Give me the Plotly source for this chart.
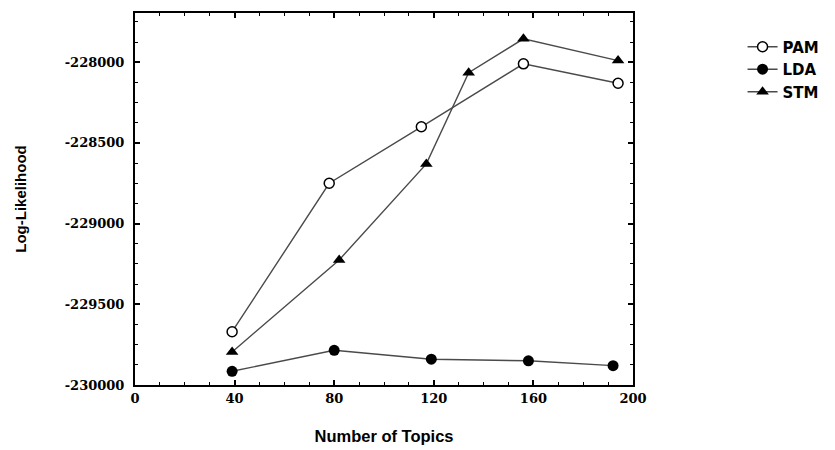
import plotly.graph_objects as go

# Data
pam_x = [39, 78, 115, 156, 194]
pam_y = [-229670, -228750, -228400, -228010, -228130]
lda_x = [39, 80, 119, 158, 192]
lda_y = [-229915, -229785, -229840, -229850, -229880]
stm_x = [39, 82, 117, 134, 156, 194]
stm_y = [-229795, -229225, -228630, -228065, -227855, -227990]

x_ticks = [0, 40, 80, 120, 160, 200]
y_ticks = [-230000, -229500, -229000, -228500, -228000]

line_col = "#4a4a4a"
fig = go.Figure()
fig.add_trace(go.Scatter(x=pam_x, y=pam_y, name="PAM", mode="lines+markers",
                         line=dict(color=line_col, width=1.4),
                         marker=dict(symbol="circle", size=10, color="white",
                                     line=dict(color="black", width=1.5))))
fig.add_trace(go.Scatter(x=lda_x, y=lda_y, name="LDA", mode="lines+markers",
                         line=dict(color=line_col, width=1.4),
                         marker=dict(symbol="circle", size=11, color="black")))
fig.add_trace(go.Scatter(x=stm_x, y=stm_y, name="STM", mode="lines+markers",
                         line=dict(color=line_col, width=1.4),
                         marker=dict(symbol="triangle-up", size=11, color="black")))

tick_font = dict(family="DejaVu Serif", size=13, color="black", weight="bold")

fig.update_layout(
    width=835, height=450,
    margin=dict(l=127, r=210, t=3, b=73),
    paper_bgcolor="white", plot_bgcolor="white",
    showlegend=True,
    legend=dict(x=1.22, y=0.953, xanchor="left", yanchor="top",
                font=dict(family="DejaVu Sans", size=15, color="black", weight="bold"),
                bgcolor="rgba(0,0,0,0)", tracegroupgap=0),
    xaxis=dict(range=[0, 200], tickvals=x_ticks, ticktext=[str(v) for v in x_ticks],
               showgrid=False, zeroline=False, showline=True, linecolor="black", linewidth=2,
               mirror="allticks", ticks="inside", ticklen=5, tickwidth=1.5, tickcolor="black",
               minor=dict(dtick=10, ticks="inside", ticklen=3, tickcolor="black", tickwidth=1),
               tickfont=tick_font, ticklabelstandoff=0,
               title=dict(text="Number of Topics",
                          font=dict(family="Liberation Sans", size=16.5, color="black", weight="bold"),
                          standoff=26)),
    yaxis=dict(range=[-230000, -227695], tickvals=y_ticks, ticktext=[str(v) for v in y_ticks],
               showgrid=False, zeroline=False, showline=True, linecolor="black", linewidth=2,
               mirror="allticks", ticks="inside", ticklen=5, tickwidth=1.5, tickcolor="black",
               minor=dict(dtick=125, ticks="inside", ticklen=3, tickcolor="black", tickwidth=1),
               tickfont=tick_font, ticklabelstandoff=6,
               title=dict(text="Log-Likelihood",
                          font=dict(family="Liberation Sans", size=15, color="black", weight="bold"),
                          standoff=34)),
)

fig.write_html("out.html")
